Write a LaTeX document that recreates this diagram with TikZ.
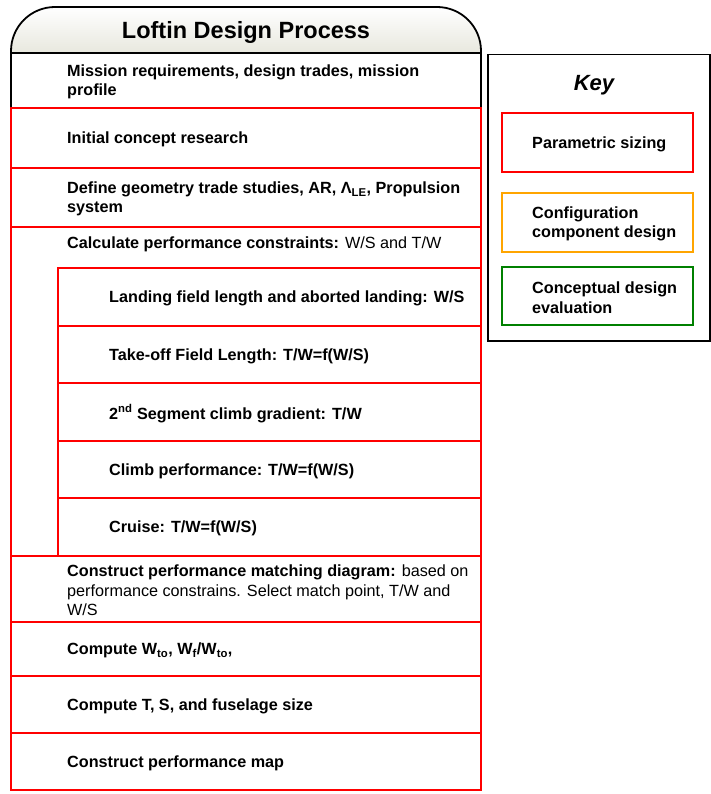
\documentclass[tikz,border=0pt]{standalone}
\usepackage{fontspec}
\setmainfont{Liberation Sans}
\usetikzlibrary{shadings}
\definecolor{hdrtop}{RGB}{255,255,255}
\definecolor{hdrbot}{RGB}{232,232,222}
\definecolor{keyorange}{RGB}{255,165,0}
\definecolor{keygreen}{RGB}{0,128,0}
\tikzset{
  rowbox/.style={draw=red, line width=1.8pt, anchor=north west, inner sep=0pt, outer sep=0pt, minimum width=470pt},
  subbox/.style={rowbox, minimum width=423pt},
  keybox/.style={draw=#1, line width=1.8pt, anchor=north west, inner sep=0pt, outer sep=0pt, minimum width=191pt},
  lbl/.style={anchor=west, inner sep=0pt, yshift=-1.5pt, align=left, font=\fontsize{16.2}{19.5}\selectfont\bfseries},
}
\begin{document}
\begin{tikzpicture}[x=1pt,y=-1pt]
\useasboundingbox (0,0) rectangle (711,794);

% title header with rounded top corners
\draw[line width=1.8pt, top color=hdrtop, bottom color=hdrbot, rounded corners=44pt]
  (11,53) -- (11,7) -- (481,7) -- (481,53);
\draw[line width=1.8pt] (11,53) -- (481,53);
\node[inner sep=0pt, font=\fontsize{23.5}{26}\selectfont\bfseries] (title) at (246,32) {Loftin Design Process};

% first step (black frame)
\node[rowbox, draw=black, minimum height=55pt] (r1) at (11,53) {};
\node[lbl] (t1) at (67,80.5) {Mission requirements, design trades, mission\\profile};

% parametric sizing steps
\node[rowbox, minimum height=60pt] (r2) at (11,108) {};
\node[lbl] (t2) at (67,138) {Initial concept research};
\node[rowbox, minimum height=59pt] (r3) at (11,168) {};
\node[lbl] (t3) at (67,197.5) {Define geometry trade studies, AR, Λ\textsubscript{LE}, Propulsion\\system};
\node[rowbox, minimum height=329pt] (r4) at (11,227) {};
\node[lbl] (t4) at (67,243) {Calculate performance constraints: {\mdseries W/S and T/W}};

% performance constraints
\node[subbox, minimum height=58pt] (s1) at (58,268) {};
\node[lbl] (u1) at (109,297) {Landing field length and aborted landing: W/S};
\node[subbox, minimum height=57pt] (s2) at (58,326) {};
\node[lbl] (u2) at (109,354.5) {Take-off Field Length: T/W=f(W/S)};
\node[subbox, minimum height=58pt] (s3) at (58,383) {};
\node[lbl] (u3) at (109,412) {2\textsuperscript{nd} Segment climb gradient: T/W};
\node[subbox, minimum height=57pt] (s4) at (58,441) {};
\node[lbl] (u4) at (109,469.5) {Climb performance: T/W=f(W/S)};
\node[subbox, minimum height=58pt] (s5) at (58,498) {};
\node[lbl] (u5) at (109,527) {Cruise: T/W=f(W/S)};

\node[rowbox, minimum height=66pt] (r5) at (11,556) {};
\node[lbl] (t5) at (67,589) {Construct performance matching diagram: {\mdseries based on}\\{\mdseries performance constrains. Select match point, T/W and}\\{\mdseries W/S}};
\node[rowbox, minimum height=54pt] (r6) at (11,622) {};
\node[lbl] (t6) at (67,649) {Compute W\textsubscript{to}, W\textsubscript{f}/W\textsubscript{to},};
\node[rowbox, minimum height=57pt] (r7) at (11,676) {};
\node[lbl] (t7) at (67,704.5) {Compute T, S, and fuselage size};
\node[rowbox, minimum height=57pt] (r8) at (11,733) {};
\node[lbl] (t8) at (67,761.5) {Construct performance map};

% key
\node[draw=black, line width=1.5pt, anchor=north west, inner sep=0pt, minimum width=222pt, minimum height=286pt] (key) at (487,54) {};
\node[inner sep=0pt, font=\fontsize{22}{26}\selectfont\bfseries\itshape] (keytitle) at (594,85) {Key};
\node[keybox=red, minimum height=59pt] (k1) at (502,113) {};
\node[lbl] (kt1) at (532,142.5) {Parametric sizing};
\node[keybox=keyorange, minimum height=59pt] (k2) at (502,193) {};
\node[lbl] (kt2) at (532,222.5) {Configuration\\component design};
\node[keybox=keygreen, minimum height=58pt] (k3) at (502,267) {};
\node[lbl] (kt3) at (532,296) {Conceptual design\\evaluation};
\end{tikzpicture}
\end{document}
